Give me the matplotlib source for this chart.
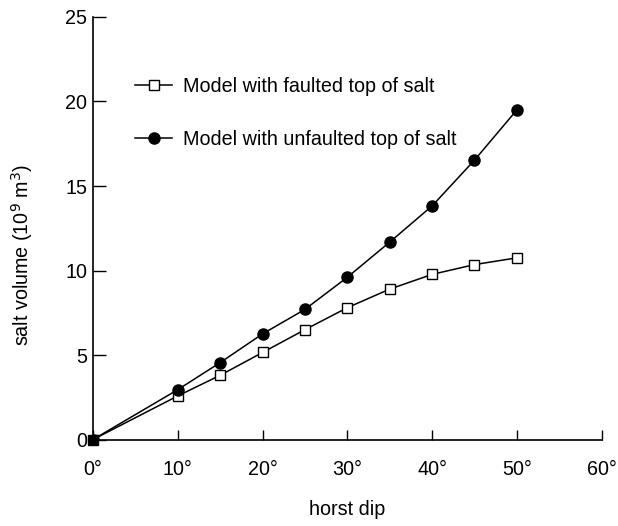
import matplotlib
matplotlib.use("Agg")
import matplotlib.pyplot as plt

plt.rcParams['font.family'] = ['Liberation Sans', 'DejaVu Sans']

# horst dip (degrees) and salt volume (10^9 m^3)
dip = [0, 10, 15, 20, 25, 30, 35, 40, 45, 50]
faulted = [0, 2.58, 3.8, 5.15, 6.5, 7.8, 8.9, 9.77, 10.35, 10.75]
unfaulted = [0, 2.95, 4.55, 6.25, 7.7, 9.6, 11.68, 13.82, 16.53, 19.5]

xticks = [0, 10, 20, 30, 40, 50, 60]
xticklabels = [f"{t}\u00b0" for t in xticks]
yticks = [0, 5, 10, 15, 20, 25]

fs = 14.2

fig = plt.figure(figsize=(6.18, 5.26), dpi=100)
ax = fig.add_axes([0.1505, 0.1644, 0.823, 0.8033])

ax.plot(dip, faulted, '-', color='black', lw=1.1, marker='s', ms=7.5,
        mfc='white', mec='black', mew=1.0, label='Model with faulted top of salt')
ax.plot(dip, unfaulted, '-', color='black', lw=1.1, marker='o', ms=8,
        mfc='black', mec='black', label='Model with unfaulted top of salt')
# origin is drawn as a solid square in the original
ax.plot(dip[0], faulted[0], 's', color='black', ms=7.5, zorder=5, clip_on=False)

ax.set_xlim(0, 60)
ax.set_ylim(0, 25)
ax.set_xticks(xticks)
ax.set_xticklabels(xticklabels)
ax.set_yticks(yticks)

for s in ['top', 'right']:
    ax.spines[s].set_visible(False)
for s in ['left', 'bottom']:
    ax.spines[s].set_linewidth(1.2)

ax.tick_params(axis='both', labelsize=fs, direction='in', width=1.0)
ax.tick_params(axis='x', length=7, pad=15)
ax.tick_params(axis='y', length=9, pad=4)

ax.set_xlabel('horst dip', fontsize=fs)
ax.set_ylabel('salt volume (10$^9$ m$^3$)', fontsize=fs)
ax.xaxis.set_label_coords(0.5, -0.142)
ax.yaxis.set_label_coords(-0.115, 0.437)

ax.legend(loc='upper left', bbox_to_anchor=(0.083, 0.858), frameon=False,
          fontsize=fs, handlelength=1.88, handletextpad=0.55, labelspacing=1.7,
          borderpad=0, borderaxespad=0)

fig.savefig('out.png', dpi=100)
